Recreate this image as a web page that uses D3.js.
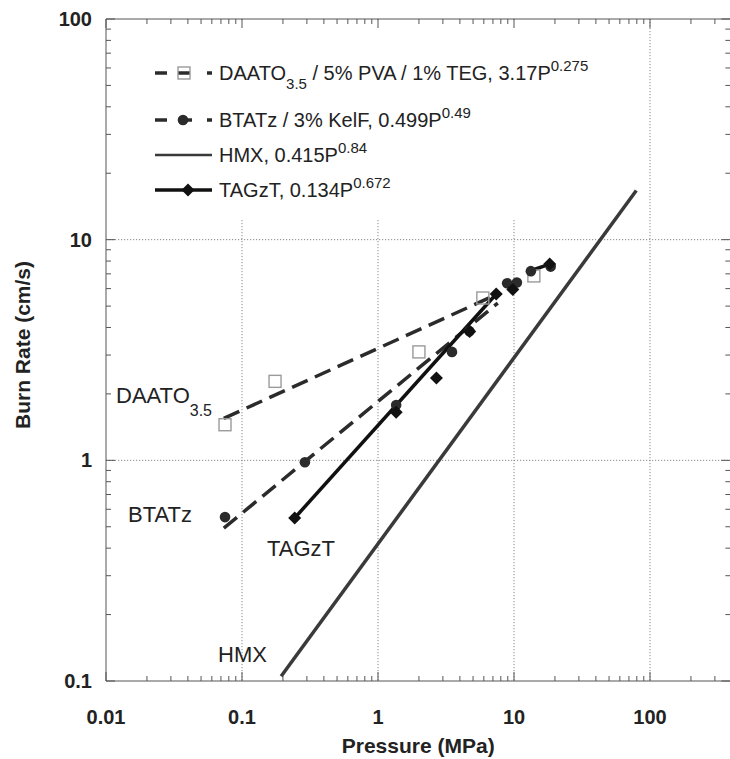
<!DOCTYPE html>
<html>
<head>
<meta charset="utf-8">
<script src="https://cdn.jsdelivr.net/npm/d3@7"></script>
<style>
  html, body { margin: 0; padding: 0; background: #fff; }
  svg { display: block; font-family: "Liberation Sans", Arial, Helvetica, sans-serif; }
</style>
</head>
<body>
<svg id="chart" width="730" height="759"></svg>
<script>
// ---------- data ----------
const xTickValues = [0.01, 0.1, 1, 10, 100];
const xTickLabels = ["0.01", "0.1", "1", "10", "100"];
const yTickValues = [0.1, 1, 10, 100];
const yTickLabels = ["0.1", "1", "10", "100"];

// DAATO3.5 / 5% PVA / 1% TEG
const daatoP = [0.075, 0.175, 2.0, 5.9, 14.0];
const daatoR = [1.45, 2.28, 3.1, 5.44, 6.85];
const daatoFitP = [0.0735, 7.4];
const daatoFitR = [1.55, 5.63];

// BTATz / 3% KelF
const btatzP = [0.075, 0.29, 1.36, 3.5, 4.7, 8.9, 10.5, 13.3, 18.6];
const btatzR = [0.553, 0.98, 1.78, 3.1, 3.85, 6.35, 6.4, 7.2, 7.55];
const btatzFitP = [0.0735, 7.6];
const btatzFitR = [0.493, 5.16];

// HMX
const hmxFitP = [0.194, 79.3];
const hmxFitR = [0.105, 16.7];

// TAGzT
const tagztP = [0.244, 1.36, 2.69, 4.72, 7.4, 9.8, 18.3];
const tagztR = [0.548, 1.65, 2.36, 3.84, 5.67, 5.95, 7.75];
const tagztFitP = [0.244, 7.4];
const tagztFitR = [0.548, 5.67];
const tagztHighP = [13.4, 18.3];
const tagztHighR = [7.25, 7.75];

const legendLabels = [
  {main: "DAATO", sub: "3.5", rest: " / 5% PVA / 1% TEG, 3.17P", sup: "0.275"},
  {main: "BTATz / 3% KelF, 0.499P", sub: "", rest: "", sup: "0.49"},
  {main: "HMX, 0.415P", sub: "", rest: "", sup: "0.84"},
  {main: "TAGzT, 0.134P", sub: "", rest: "", sup: "0.672"}
];

(function () {
// ---------- layout ----------
const pLeft = 106, pTop = 19, pBottom = 681;
const xMax = 390;
const svg = d3.select("#chart");

const x = d3.scaleLog().domain([0.01, 100]).range([pLeft, 650]);
const y = d3.scaleLog().domain([0.1, 100]).range([pBottom, pTop]);
const pRight = x(xMax);

const dark = "#2b2b2b";
const gridColor = "#888";

// gridlines (dotted)
const g = svg.append("g");
g.selectAll("line.vg").data([0.1, 1, 10, 100]).join("line")
  .attr("x1", d => x(d)).attr("x2", d => x(d))
  .attr("y1", pTop).attr("y2", pBottom)
  .attr("stroke", gridColor).attr("stroke-width", 1).attr("stroke-dasharray", "1.2,1.8");
g.selectAll("line.hg").data([1, 10]).join("line")
  .attr("x1", pLeft).attr("x2", pRight)
  .attr("y1", d => y(d)).attr("y2", d => y(d))
  .attr("stroke", gridColor).attr("stroke-width", 1).attr("stroke-dasharray", "1.2,1.8");

// legend background hiding the grid
svg.append("rect").attr("x", 130).attr("y", pTop + 1).attr("width", 500).attr("height", 199).attr("fill", "#fff");

// minor ticks
const xMinor = [];
for (let e = -2; e <= 2; e++) for (let m = 1; m <= 9; m++) {
  const v = m * Math.pow(10, e);
  if (v <= xMax) xMinor.push(v);
}
const yMinor = [];
for (let e = -1; e <= 1; e++) for (let m = 1; m <= 9; m++) yMinor.push(m * Math.pow(10, e));
yMinor.push(100);
const isMajor = (arr, d) => arr.some(v => Math.abs(v - d) / v < 1e-9);

const axisG = svg.append("g").attr("stroke", "#555").attr("stroke-width", 1);
axisG.selectAll("line.bt").data(xMinor).join("line")
  .attr("x1", d => x(d)).attr("x2", d => x(d))
  .attr("y1", pBottom).attr("y2", d => pBottom - (isMajor(xTickValues, d) ? 9 : 5));
axisG.selectAll("line.tt").data(xMinor).join("line")
  .attr("x1", d => x(d)).attr("x2", d => x(d))
  .attr("y1", pTop).attr("y2", d => pTop + (isMajor(xTickValues, d) ? 9 : 5));
axisG.selectAll("line.lt").data(yMinor).join("line")
  .attr("y1", d => y(d)).attr("y2", d => y(d))
  .attr("x1", pLeft).attr("x2", d => pLeft + (isMajor(yTickValues, d) ? 9 : 5));
axisG.selectAll("line.rt").data(yMinor).join("line")
  .attr("y1", d => y(d)).attr("y2", d => y(d))
  .attr("x1", pRight).attr("x2", d => pRight - (isMajor(yTickValues, d) ? 9 : 5));
axisG.append("line").attr("x1", pLeft).attr("x2", pRight).attr("y1", pBottom).attr("y2", pBottom);
axisG.append("line").attr("x1", pLeft).attr("x2", pRight).attr("y1", pTop).attr("y2", pTop);
axisG.append("line").attr("x1", pLeft).attr("x2", pLeft).attr("y1", pTop).attr("y2", pBottom);

// tick labels
svg.selectAll("text.xl").data(xTickValues).join("text")
  .attr("x", d => x(d)).attr("y", 724)
  .attr("text-anchor", "middle").attr("font-size", 20).attr("font-weight", "bold").attr("fill", "#222")
  .text((d, i) => xTickLabels[i]);
svg.selectAll("text.yl").data(yTickValues).join("text")
  .attr("x", 92).attr("y", d => y(d) + 7)
  .attr("text-anchor", "end").attr("font-size", 20).attr("font-weight", "bold").attr("fill", "#222")
  .text((d, i) => yTickLabels[i]);

// axis titles
svg.append("text").attr("x", (pLeft + pRight) / 2).attr("y", 753)
  .attr("text-anchor", "middle").attr("font-size", 21).attr("font-weight", "bold").attr("fill", "#222")
  .text("Pressure (MPa)");
svg.append("text").attr("transform", "translate(30,345) rotate(-90)")
  .attr("text-anchor", "middle").attr("font-size", 21).attr("font-weight", "bold").attr("fill", "#222")
  .text("Burn Rate (cm/s)");

// ---------- series ----------
const line = d3.line().x(d => x(d[0])).y(d => y(d[1]));
const zip = (a, b) => a.map((v, i) => [v, b[i]]);

svg.append("path").datum(zip(hmxFitP, hmxFitR)).attr("d", line)
  .attr("fill", "none").attr("stroke", "#3a3a3a").attr("stroke-width", 3.5);
svg.append("path").datum(zip(daatoFitP, daatoFitR)).attr("d", line)
  .attr("fill", "none").attr("stroke", dark).attr("stroke-width", 3.5).attr("stroke-dasharray", "17,8");
svg.append("path").datum(zip(btatzFitP, btatzFitR)).attr("d", line)
  .attr("fill", "none").attr("stroke", dark).attr("stroke-width", 3.5).attr("stroke-dasharray", "17,8");
svg.append("path").datum(zip(tagztFitP, tagztFitR)).attr("d", line)
  .attr("fill", "none").attr("stroke", "#111").attr("stroke-width", 3.5);
svg.append("path").datum(zip(tagztHighP, tagztHighR)).attr("d", line)
  .attr("fill", "none").attr("stroke", "#111").attr("stroke-width", 3.5);

const sq = 12;
svg.selectAll("rect.daato").data(zip(daatoP, daatoR)).join("rect")
  .attr("x", d => x(d[0]) - sq / 2).attr("y", d => y(d[1]) - sq / 2)
  .attr("width", sq).attr("height", sq)
  .attr("fill", "none").attr("stroke", "#9a9a9a").attr("stroke-width", 1.4);
svg.selectAll("circle.btatz").data(zip(btatzP, btatzR)).join("circle")
  .attr("cx", d => x(d[0])).attr("cy", d => y(d[1])).attr("r", 5.3)
  .attr("fill", dark);
const diamond = d3.symbol().type(d3.symbolSquare).size(85);
svg.selectAll("path.tagzt").data(zip(tagztP, tagztR)).join("path")
  .attr("transform", d => `translate(${x(d[0])},${y(d[1])}) rotate(45)`)
  .attr("d", diamond).attr("fill", "#111");

// ---------- annotations ----------
const ann = svg.append("g").attr("fill", "#222").attr("font-size", 22);
const daText = ann.append("text").attr("x", 116).attr("y", 403);
daText.append("tspan").text("DAATO");
daText.append("tspan").attr("font-size", 16).attr("dy", 13).text("3.5");
ann.append("text").attr("x", 128).attr("y", 522).text("BTATz");
ann.append("text").attr("x", 267).attr("y", 556).text("TAGzT");
ann.append("text").attr("x", 218).attr("y", 662).text("HMX");

// ---------- legend ----------
const rowsY = [73, 120, 155, 190];
const lg = svg.append("g");
const seg = (x1, x2, yy, col, w) => lg.append("line").attr("x1", x1).attr("x2", x2).attr("y1", yy).attr("y2", yy).attr("stroke", col).attr("stroke-width", w);
seg(155, 167, rowsY[0], dark, 3.5);
seg(178, 190, rowsY[0], dark, 3.5);
lg.append("rect").attr("x", 184 - sq / 2).attr("y", rowsY[0] - sq / 2).attr("width", sq).attr("height", sq)
  .attr("fill", "none").attr("stroke", "#9a9a9a").attr("stroke-width", 1.4);
seg(207, 212, rowsY[0], dark, 3.5);
seg(155, 167, rowsY[1], dark, 3.5);
seg(178, 192, rowsY[1], dark, 3.5);
lg.append("circle").attr("cx", 183).attr("cy", rowsY[1]).attr("r", 5.3).attr("fill", dark);
seg(207, 212, rowsY[1], dark, 3.5);
seg(155, 212, rowsY[2], "#3a3a3a", 2.5);
seg(155, 212, rowsY[3], "#111", 3.5);
lg.append("path").attr("transform", `translate(188,${rowsY[3]}) rotate(45)`).attr("d", diamond).attr("fill", "#111");

legendLabels.forEach((L, i) => {
  const t = lg.append("text").attr("x", 219).attr("y", rowsY[i] + 7).attr("font-size", 20).attr("fill", "#222");
  t.append("tspan").text(L.main);
  if (L.sub) t.append("tspan").attr("font-size", 15).attr("dy", 9).text(L.sub);
  if (L.rest) t.append("tspan").attr("font-size", 20).attr("dy", L.sub ? -9 : 0).text(L.rest);
  t.append("tspan").attr("font-size", 15).attr("dy", -9).text(L.sup);
});
})();
</script>
</body>
</html>
